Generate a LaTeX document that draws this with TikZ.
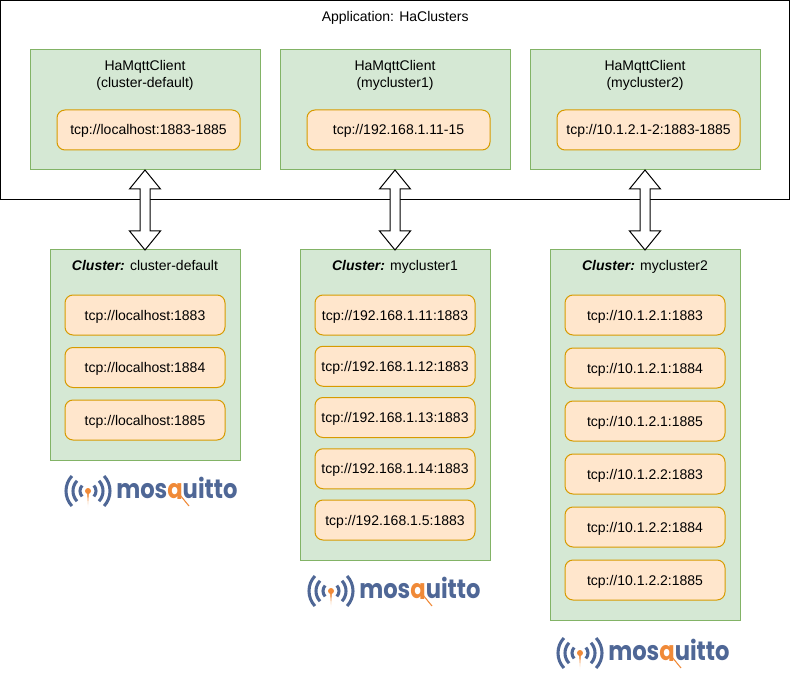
\documentclass[tikz,border=0pt]{standalone}
\usepackage{fontspec}
\setmainfont{Liberation Sans}
\newfontfamily\logofont{Poppins}[FakeStretch=0.85]
\usetikzlibrary{calc}
\definecolor{boxgreen}{HTML}{D5E8D4}
\definecolor{edgegreen}{HTML}{82B366}
\definecolor{boxorange}{HTML}{FFE6CC}
\definecolor{edgeorange}{HTML}{D79B00}
\definecolor{logoblue}{HTML}{4F6796}
\definecolor{logoorange}{HTML}{F08A38}
\tikzset{
	greenbox/.style={draw=edgegreen, fill=boxgreen, line width=0.75pt, minimum width=#1*0.75pt, outer sep=0pt, anchor=north west},
	addrbox/.style={draw=edgeorange, fill=boxorange, line width=0.75pt, rounded corners=6pt, minimum height=30pt, minimum width=#1*0.75pt, inner sep=0pt, outer sep=0pt, text height=9.5pt, text depth=2pt},
	blockarrow/.style={draw=black, fill=white, line width=0.75pt, to path={
		let \p1=(\tikztostart), \p2=(\tikztotarget) in
		(\tikztostart) -- ++(15.5,19) -- ++(-10.5,0) -- ($(\tikztotarget)+(5,-19)$) -- ++(10.5,0)
		-- (\tikztotarget) -- ++(-15.5,-19) -- ++(10.5,0) -- ($(\tikztostart)+(-5,19)$) -- ++(-10.5,0) -- cycle}},
	mosquittologo/.pic={
		\foreach \r in {8,15,22}{
			\draw[logoblue, line width=2.3pt] (-43:\r) arc (-43:43:\r);
			\draw[logoblue, line width=2.3pt] (137:\r) arc (137:223:\r);
		}
		\shade[top color=logoorange, bottom color=white] (-1.2,0) -- (1.2,0) -- (0,17) -- cycle;
		\fill[logoorange] (0,0) circle (3);
		\begin{scope}
			\clip (28,-15) rectangle (152,7.4);
			\node (word)[anchor=base west, inner sep=0pt, text=logoblue] at (28,7) {\logofont\bfseries\fontsize{20}{20}\selectfont mos\textcolor{logoorange}{q}uitto};
		\end{scope}
		\draw[logoorange, line width=0.8pt] (92,4) -- (101,15);
	}
}
\begin{document}
\begin{tikzpicture}[x=0.75pt, y=-0.75pt, font=\fontsize{10.5}{12.75}\selectfont]
	\useasboundingbox (0,0) rectangle (791,673);
	\node (app)[draw=black, line width=0.75pt, minimum width=592pt, minimum height=149.6pt, outer sep=0pt, anchor=north west] at (0.5,0.5){};
	\node (apptitle)[anchor = north] at ([shift={(0,6)}]app.north){Application: HaClusters};
	%
	\foreach \i/\x/\name/\addr in {1/30/cluster-default/{tcp://localhost:1883-1885}, 2/280/mycluster1/{tcp://192.168.1.11-15}, 3/530/mycluster2/{tcp://10.1.2.1-2:1883-1885}}{
		\node (hc\i)[greenbox=230, minimum height=90pt] at (\x,50){};
		\node (hctitle\i)[anchor = north, align=center] at ([shift={(0,6)}]hc\i.north){HaMqttClient\\(\name)};
		\node (hcaddr\i)[addrbox=183] at ([shift={(3.5,20)}]hc\i.center){\addr};
	}
	%
	\node (cl1)[greenbox=190, minimum height=157.5pt] at (50,250){};
	\node (cl2)[greenbox=190, minimum height=232.5pt] at (300,250){};
	\node (cl3)[greenbox=190, minimum height=277.5pt] at (550,250){};
	\node (cltitle1)[anchor = north] at ([shift={(0,6)}]cl1.north){\textbf{\textit{Cluster:}} cluster-default};
	\node (cltitle2)[anchor = north] at ([shift={(0,6)}]cl2.north){\textbf{\textit{Cluster:}} mycluster1};
	\node (cltitle3)[anchor = north] at ([shift={(0,6)}]cl3.north){\textbf{\textit{Cluster:}} mycluster2};
	%
	\foreach \addr [count=\j, evaluate=\j as \yy using 65+(\j-1)*52.5] in {localhost:1883,localhost:1884,localhost:1885}
		\node (a1\j)[addrbox=160] at ([shift={(0,\yy)}]cl1.north){tcp://\addr};
	\foreach \addr [count=\j, evaluate=\j as \yy using 65+(\j-1)*51.25] in {192.168.1.11:1883,192.168.1.12:1883,192.168.1.13:1883,192.168.1.14:1883,192.168.1.5:1883}
		\node (a2\j)[addrbox=160] at ([shift={(0,\yy)}]cl2.north){tcp://\addr};
	\foreach \addr [count=\j, evaluate=\j as \yy using 65+(\j-1)*53] in {10.1.2.1:1883,10.1.2.1:1884,10.1.2.1:1885,10.1.2.2:1883,10.1.2.2:1884,10.1.2.2:1885}
		\node (a3\j)[addrbox=160] at ([shift={(0,\yy)}]cl3.north){tcp://\addr};
	%
	\foreach \i in {1,2,3}
		\draw[blockarrow] (hc\i.south) to (cl\i.north);
	%
	\pic (logo1) at (88,491) {mosquittologo};
	\pic (logo2) at (331,591) {mosquittologo};
	\pic (logo3) at (580,653) {mosquittologo};
\end{tikzpicture}
\end{document}
